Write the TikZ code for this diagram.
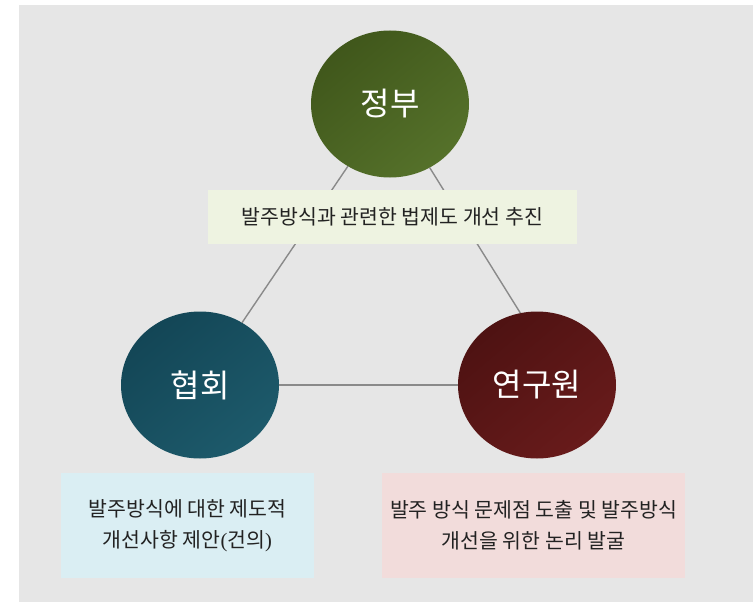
\documentclass[tikz,border=0pt]{standalone}
\usepackage{fontspec}
\setmainfont{Noto Sans CJK KR}
\newfontfamily\parenfont{Liberation Serif}
\usetikzlibrary{shapes.geometric}
\definecolor{bg}{HTML}{E6E6E6}
\definecolor{linkgray}{HTML}{8A8A8A}
\definecolor{jbA}{HTML}{40571B}
\definecolor{jbB}{HTML}{55712A}
\definecolor{hhA}{HTML}{134656}
\definecolor{hhB}{HTML}{1D5A6B}
\definecolor{ygA}{HTML}{4E1212}
\definecolor{ygB}{HTML}{681B1B}
\definecolor{topfill}{HTML}{EEF3E1}
\definecolor{leftfill}{HTML}{DAEEF3}
\definecolor{rightfill}{HTML}{F2DCDB}
\definecolor{ink}{HTML}{222222}
\begin{document}
\begin{tikzpicture}[x=1pt,y=-1pt,
  hub/.style={ellipse, inner sep=0pt, outer sep=0pt, minimum width=158pt, minimum height=147pt,
    text=white, font=\fontsize{32}{38}\selectfont},
  link/.style={draw=linkgray, line width=1.4pt},
  notebox/.style={inner sep=0pt, outer sep=0pt, text=ink, align=center,
    font=\fontsize{20.5}{31}\selectfont}]
\useasboundingbox (0,0) rectangle (753,602);
\fill[bg] (19,5) rectangle (753,602);
\node[hub, top color=jbA, bottom color=jbB, shading angle=40] (jb) at (390,104) {정부};
\node[hub, top color=hhA, bottom color=hhB, shading angle=40] (hh) at (200,385) {협회};
\node[hub, top color=ygA, bottom color=ygB, shading angle=40] (yg) at (537,385) {연구원};
\draw[link] (jb) -- (hh.56);
\draw[link] (jb) -- (yg.103);
\draw[link] (hh) -- (yg);
\node[notebox, fill=topfill, minimum width=369pt, minimum height=54pt] (tb) at (392.5,217)
  {발주방식과 관련한 법제도 개선 추진};
\node[notebox, fill=leftfill, minimum width=253pt, minimum height=105pt] (lb) at (187.5,525.5)
  {발주방식에 대한 제도적\\개선사항 제안{\parenfont(}건의{\parenfont)}};
\node[notebox, fill=rightfill, minimum width=303pt, minimum height=105pt] (rb) at (533.5,525.5)
  {발주 방식 문제점 도출 및 발주방식\\개선을 위한 논리 발굴};
\end{tikzpicture}
\end{document}
